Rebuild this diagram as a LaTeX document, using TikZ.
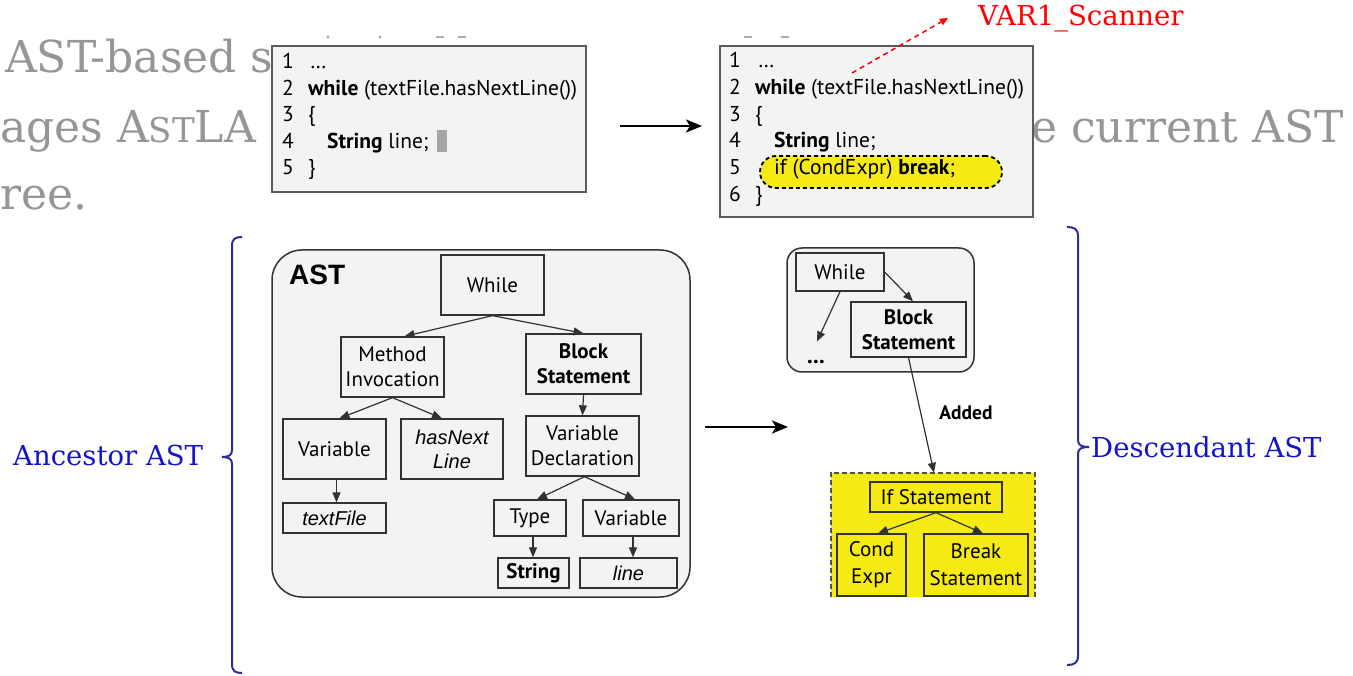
\documentclass[tikz,border=0pt]{standalone}
\usepackage{fontspec}
\setmainfont{DejaVu Serif}
\newfontfamily\pts{PT Sans}
\newfontfamily\arialf{Liberation Sans}
\usetikzlibrary{arrows.meta}
\definecolor{bgc}{RGB}{242,243,243}
\definecolor{boxc}{RGB}{50,50,50}
\definecolor{yel}{RGB}{245,234,20}
\definecolor{slidegray}{RGB}{150,150,150}
\definecolor{lblue}{RGB}{20,20,200}
\definecolor{bracec}{RGB}{45,45,150}
\definecolor{cursorc}{RGB}{165,165,165}
\begin{document}
\begin{tikzpicture}[x=1pt,y=-1pt,
 tn/.style={draw=boxc, line width=1.3pt, fill=bgc, inner sep=0pt, align=center, font=\pts\fontsize{21}{25}\selectfont},
 tb/.style={tn, font=\pts\bfseries\fontsize{21}{25}\selectfont},
 ti/.style={tn, font=\arialf\itshape\fontsize{20}{24}\selectfont},
 yn/.style={tn, fill=yel, font=\pts\fontsize{21}{27}\selectfont},
 arr/.style={draw=boxc, line width=1.2pt, -{Triangle[length=10pt,width=8pt]}},
 bigarr/.style={draw=black, line width=2.6pt, -{Stealth[length=16pt,width=13pt,inset=4pt]}},
 codebox/.style={draw=boxc!80, line width=1.4pt, fill=bgc, inner sep=0pt},
 cl/.style={anchor=base west, inner sep=0pt, font=\pts\fontsize{21.5}{26}\selectfont},
 slide/.style={anchor=base west, inner sep=0pt, text=slidegray, font=\fontsize{44}{50}\selectfont},
 blab/.style={anchor=base west, inner sep=0pt, text=lblue, font=\fontsize{27.5}{30}\selectfont},
 brace/.style={draw=bracec, line width=2pt},
 frag/.style={fill=slidegray!80},
]
\useasboundingbox[fill=white] (0,0) rectangle (1353,676);

% slide text behind
\node[slide] (s1) at (5,73) {AST-based s};
\node[slide] (s2) at (0,143) {ages A{\fontsize{34}{40}\selectfont ST}LA};
\node[slide] (s3) at (0,210) {ree.};
\node[slide] (s4) at (1031,143) {e current AST};
\fill[frag] (328,37) circle (1.6);
\fill[frag] (380,37) circle (1.6);
\fill[frag] (436,36) rectangle (444,38.5);
\fill[frag] (458,36) rectangle (466,38.5);
\fill[frag] (744,36) rectangle (752,38.5);
\fill[frag] (781,36) rectangle (789,38.5);

% code box 1
\node[codebox, minimum width=314pt, minimum height=146pt] (c1) at (429,119) {};
\node[cl] (c1n1) at (282,69) {1};
\node[cl] (c1t1) at (310,69) {…};
\node[cl] (c1n2) at (282,95.5) {2};
\node[cl] (c1t2) at (308,95.5) {\textbf{while} (textFile.hasNextLine())};
\node[cl] (c1n3) at (282,122) {3};
\node[cl] (c1t3) at (308,122) {\{};
\node[cl] (c1n4) at (282,148.5) {4};
\node[cl] (c1t4) at (327,148.5) {\textbf{String} line;};
\node[cl] (c1n5) at (282,175) {5};
\node[cl] (c1t5) at (308,175) {\}};
\fill[cursorc] (437,130) rectangle (447,152);

% code box 2
\node[codebox, minimum width=313pt, minimum height=171pt] (c2) at (876.5,131.5) {};
\node[draw=black, line width=1.8pt, dash pattern=on 4pt off 3pt, fill=yel, rounded corners=16pt, minimum width=242pt, minimum height=32pt, inner sep=0pt] (pill) at (881,172) {};
\node[cl] (c2n1) at (729,68) {1};
\node[cl] (c2t1) at (758,68) {…};
\node[cl] (c2n2) at (729,95) {2};
\node[cl] (c2t2) at (755,95) {\textbf{while} (textFile.hasNextLine())};
\node[cl] (c2n3) at (729,121.5) {3};
\node[cl] (c2t3) at (755,121.5) {\{};
\node[cl] (c2n4) at (729,148) {4};
\node[cl] (c2t4) at (774,148) {\textbf{String} line;};
\node[cl] (c2n5) at (729,175) {5};
\node[cl] (c2t5) at (774,175) {if (CondExpr) \textbf{break};};
\node[cl] (c2n6) at (729,202) {6};
\node[cl] (c2t6) at (755,202) {\}};

% red annotation
\node[anchor=base west, inner sep=0pt, text=red, font=\fontsize{27.5}{30}\selectfont] (var) at (978,26) {VAR1\_Scanner};
\coordinate (vstart) at (852,73);
\coordinate (vend) at (948,18);
\draw[red, line width=1.5pt, dash pattern=on 5pt off 4pt, -{Triangle[length=8pt,width=7pt]}] (vstart) -- (vend);

% big arrows
\coordinate (a1s) at (620,126);
\coordinate (a1e) at (702,126);
\draw[bigarr] (a1s) -- (a1e);
\coordinate (a2s) at (705,427);
\coordinate (a2e) at (788,427);
\draw[bigarr] (a2s) -- (a2e);

% braces
\draw[brace] (242,237) .. controls (235,237) and (232,239) .. (232,246) -- (232,450)
  .. controls (232,455) and (229,457) .. (222,457)
  .. controls (229,457) and (232,459) .. (232,464) -- (232,664)
  .. controls (232,671) and (235,673) .. (242,673);
\draw[brace] (1067,227) .. controls (1074,227) and (1078,229) .. (1078,236) -- (1078,440)
  .. controls (1078,445) and (1081,447) .. (1089,447)
  .. controls (1081,447) and (1078,449) .. (1078,454) -- (1078,656)
  .. controls (1078,663) and (1074,665) .. (1067,665);
\node[blab] (anc) at (13,465) {Ancestor AST};
\node[blab] (desc) at (1091,457) {Descendant AST};

% ancestor AST
\node[draw=boxc, line width=1.5pt, fill=bgc, rounded corners=30pt, minimum width=418pt, minimum height=347pt, inner sep=0pt] (astbox) at (481,423.5) {};
\node[anchor=base west, inner sep=0pt, font=\arialf\bfseries\fontsize{28}{28}\selectfont] (astlbl) at (289,285) {AST};

\node[tn, minimum width=103pt, minimum height=60pt] (W) at (492.5,285) {While};
\node[tn, minimum width=103pt, minimum height=60pt] (MI) at (392.5,367) {Method\\Invocation};
\node[tb, minimum width=115pt, minimum height=60pt] (BS) at (583.5,364) {Block\\Statement};
\node[tn, minimum width=103pt, minimum height=60pt] (V1) at (334.5,449) {Variable};
\node[ti, minimum width=102pt, minimum height=60pt] (HN) at (452,449) {hasNext\\Line};
\node[tn, minimum width=113pt, minimum height=60pt] (VD) at (582.5,446) {Variable\\Declaration};
\node[ti, minimum width=103pt, minimum height=30pt] (TF) at (334.5,518) {textFile};
\node[tn, minimum width=72pt, minimum height=36pt] (TY) at (530,518) {Type};
\node[tn, minimum width=96pt, minimum height=36pt] (V2) at (631,518) {Variable};
\node[tb, minimum width=71pt, minimum height=30pt] (ST) at (533.5,573) {String};
\node[ti, minimum width=97pt, minimum height=30pt] (LN) at (628.5,573) {line};

\draw[arr] (W.south) -- ([xshift=12pt]MI.north);
\draw[arr] (W.south) -- (BS.north);
\draw[arr] (BS.south) -- (VD.north);
\draw[arr] (MI.south) -- ([xshift=5pt]V1.north);
\draw[arr] (MI.south) -- ([xshift=-10pt]HN.north);
\draw[arr] ([xshift=2pt]V1.south) -- ([xshift=2pt]TF.north);
\draw[arr] ([xshift=2pt]VD.south) -- ([xshift=7pt]TY.north);
\draw[arr] ([xshift=2pt]VD.south) -- ([xshift=4pt]V2.north);
\draw[arr] ([xshift=3pt]TY.south) -- ([xshift=-0.5pt]ST.north);
\draw[arr] ([xshift=2pt]V2.south) -- ([xshift=4.5pt]LN.north);

% descendant AST
\node[draw=boxc, line width=1.5pt, fill=bgc, rounded corners=15pt, minimum width=187pt, minimum height=124pt, inner sep=0pt] (sbox) at (880.5,310) {};
\node[tn, minimum width=88pt, minimum height=38pt] (W2) at (840,272) {While};
\node[tb, minimum width=115pt, minimum height=55pt] (BS2) at (908.5,329.5) {Block\\Statement};
\node[anchor=base, inner sep=0pt, font=\pts\bfseries\fontsize{23}{23}\selectfont] (dots) at (816,364) {...};
\draw[arr] (W2.east) -- ([xshift=4.5pt]BS2.north);
\draw[arr] (W2.south) -- ([xshift=1pt,yshift=19pt]dots.north);

\node[fill=yel, minimum width=204pt, minimum height=124pt, inner sep=0pt] (ybox) at (933,535) {};
\draw[draw=boxc!85, line width=1.5pt, dash pattern=on 5pt off 3pt] (ybox.south west) -- (ybox.north west) -- (ybox.north east) -- (ybox.south east);
\node[yn, minimum width=132pt, minimum height=30pt] (IF) at (936,497) {If Statement};
\node[yn, minimum width=69pt, minimum height=62pt] (CE) at (871.5,565) {Cond\\Expr};
\node[yn, minimum width=104pt, minimum height=62pt] (BR) at (976,565) {Break\\Statement};
\draw[arr] (IF.south) -- ([xshift=6.5pt]CE.north);
\draw[arr] (IF.south) -- ([xshift=7pt]BR.north);

\draw[arr] (BS2.south) -- ([xshift=1pt]ybox.north);
\node[font=\pts\bfseries\fontsize{19.5}{20}\selectfont] (added) at (966,413) {Added};
\end{tikzpicture}
\end{document}
